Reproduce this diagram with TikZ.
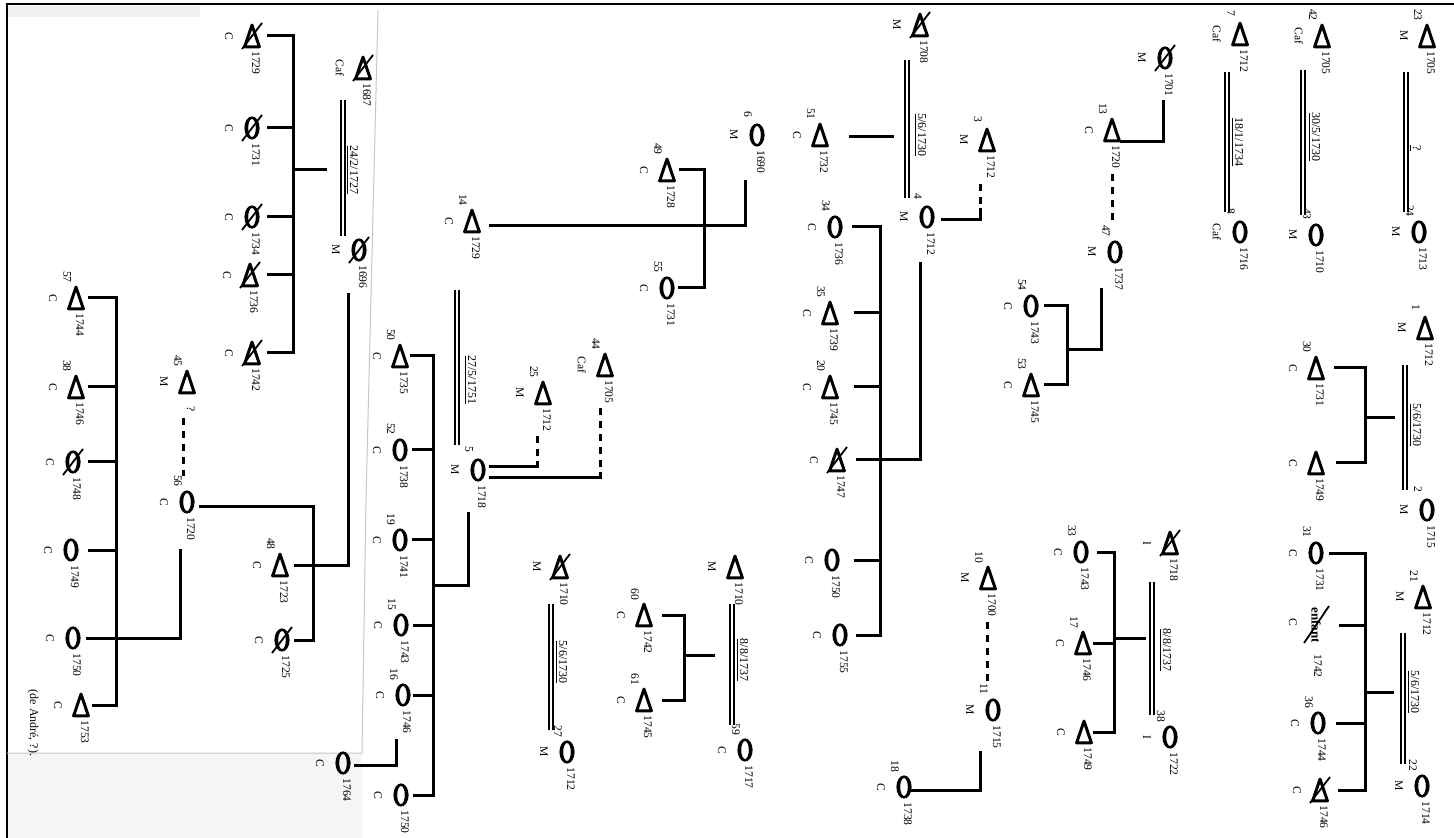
\documentclass[tikz,border=0pt]{standalone}
\usepackage{fontspec}
\setmainfont{Liberation Serif}
\newcommand{\kTri}[3]{\node[symbox] (#1) at (#2,#3) {};\draw[symline] (#1.south west) -- (#1.north) -- (#1.south east) -- cycle;}
\newcommand{\kCir}[3]{\node[symbox] (#1) at (#2,#3) {};\fill[even odd rule] (#1.center) ellipse [x radius=3.8pt, y radius=5.8pt] (#1.center) ellipse [x radius=1.9pt, y radius=4.5pt];}
\newcommand{\kX}[1]{\draw[xline] ([shift={(-5pt,-6.5pt)}]#1.center) -- ([shift={(5pt,6.5pt)}]#1.center);}
\newcommand{\kLab}[4]{%
 \if\relax\detokenize{#2}\relax\else\node[txt] (#1-n) at ([shift={(-4.5pt,10.5pt)}]#1.center) {#2};\fi
 \node[txt] (#1-y) at ([shift={(2pt,-13.5pt)}]#1.center) {#3};
 \node[txt] (#1-l) at ([shift={(-11.5pt,0pt)}]#1.center) {#4};}
\newcommand{\kKid}[3]{\draw[ln] (#2 |- #1.center) -- ([xshift=#3]#1.center);}
\begin{document}
\begin{tikzpicture}[x=0.5pt,y=-0.5pt,
  ln/.style={line width=1.5pt, line cap=rect},
  dln/.style={line width=1.5pt, dash pattern=on 3.5pt off 3pt},
  dbl/.style={double, double distance=1pt, line width=0.85pt},
  symbox/.style={inner sep=0pt, minimum width=7pt, minimum height=10.5pt},
  symline/.style={line width=1.5pt, line join=round},
  xline/.style={line width=0.9pt},
  txt/.style={rotate=-90, inner sep=0pt, font=\fontsize{5.8}{6}\selectfont},
  dtxt/.style={rotate=-90, inner sep=0pt, font=\fontsize{6}{6.5}\selectfont}]
\useasboundingbox (0,0) rectangle (1454,838);
\fill[gray!8] (7,753) rectangle (362,838);
\fill[gray!12] (8,6) rectangle (200,17);
\draw[line width=1.2pt] (7,838) -- (7,4) -- (1454,4);
\draw[gray!45, line width=0.5pt] (378,10) -- (366,500) -- (362,753) -- (7,753);

% 23 = 24
\kTri{a23}{1427}{36}\kLab{a23}{23}{1705}{M}
\kCir{a24}{1419}{232}\kLab{a24}{24}{1713}{M}
\draw[dbl] (1406,72) -- (1406,212);
\node[dtxt] (d23) at (1415,148) {\underline{?}};
% 42 = 43
\kTri{a42}{1322}{36}\kLab{a42}{42}{1705}{Caf}
\kCir{a43}{1316}{235}\kLab{a43}{43}{1710}{M}
\draw[dbl] (1303,70) -- (1303,215);
\node[dtxt] (d42) at (1314,137) {\underline{30/5/1730}};
% 7 = 8
\kTri{a7}{1240}{34}\kLab{a7}{7}{1712}{Caf}
\kCir{a8}{1240}{232}\kLab{a8}{8}{1716}{Caf}
\draw[dbl] (1227,72) -- (1227,212);
\node[dtxt] (d7) at (1237,142) {\underline{18/1/1734}};
% 1701 -> 13 - - 47
\kCir{a1701}{1165}{58}\kX{a1701}\kLab{a1701}{}{1701}{M}
\kTri{a13}{1112}{130}\kLab{a13}{13}{1720}{C}
\kCir{a47}{1115}{252}\kLab{a47}{47}{1737}{M}
\draw[ln] (1163,102) -- (1163,142) -- (1121,142);
\draw[dln] (1112,174) -- (1112,222);
\kCir{a54}{1031}{306}\kLab{a54}{54}{1743}{C}
\kTri{a53}{1031}{385}\kLab{a53}{53}{1745}{C}
\coordinate (s47) at (1067,0);
\draw[ln] (1101,290) -- (1101,350) -- (1067,350);
\draw[ln] (s47 |- a54.center) -- (s47 |- a53.center);
\kKid{a54}{s47}{7pt}\kKid{a53}{s47}{7pt}
% 1 = 2
\kTri{a1}{1425}{328}\kLab{a1}{1}{1712}{M}
\kCir{a2}{1427}{510}\kLab{a2}{2}{1715}{M}
\draw[dbl] (1405,365) -- (1405,490);
\node[dtxt] (d1) at (1415,425) {\underline{5/6/1730}};
\coordinate (s1) at (1365,0);
\draw[ln] (1393,418) -- (1365,418);
\kTri{a30}{1316}{368}\kLab{a30}{30}{1731}{C}
\kTri{a1749a}{1316}{463}\kLab{a1749a}{}{1749}{C}
\draw[ln] (s1 |- a30.center) -- (s1 |- a1749a.center);
\kKid{a30}{s1}{9.5pt}\kKid{a1749a}{s1}{10.5pt}
% 21 = 22
\kTri{a21}{1423}{597}\kLab{a21}{21}{1712}{M}
\kCir{a22}{1422}{786}\kLab{a22}{22}{1714}{M}
\draw[dbl] (1403,633) -- (1403,764);
\node[dtxt] (d21) at (1413,692) {\underline{5/6/1730}};
\coordinate (s21) at (1365,0);
\draw[ln] (1392,692) -- (1365,692);
\kCir{a31}{1316}{553}\kLab{a31}{31}{1731}{C}
\node[txt, font=\fontsize{6.5}{7}\selectfont\bfseries] (aenf) at (1316,625) {enfant};
\node[txt] (aenf-y) at (1318,666) {1742};
\node[txt] (aenf-l) at (1293,622) {C};
\draw[xline] (1304,643) -- (1329,606);
\kCir{a36}{1318}{723}\kLab{a36}{36}{1744}{C}
\kTri{a1746}{1320}{790}\kX{a1746}\kLab{a1746}{}{1746}{C}
\draw[ln] (s21 |- a31.center) -- (s21 |- a1746.center);
\kKid{a31}{s21}{7pt}\kKid{aenf}{s21}{12pt}\kKid{a36}{s21}{9.5pt}\kKid{a1746}{s21}{9.5pt}
% 1718 = 38
\kTri{a1718}{1170}{543}\kX{a1718}\kLab{a1718}{}{1718}{I}
\kCir{a38}{1170}{737}\kLab{a38}{38}{1722}{I}
\draw[dbl] (1152,582) -- (1152,715);
\node[dtxt] (d1718) at (1165,650) {\underline{8/8/1737}};
\coordinate (s1718) at (1114,0);
\draw[ln] (1144,638) -- (1114,638);
\kCir{a33}{1081}{552}\kLab{a33}{33}{1743}{C}
\kTri{a17}{1083}{643}\kLab{a17}{17}{1746}{C}
\kTri{a1749b}{1084}{732}\kLab{a1749b}{}{1749}{C}
\draw[ln] (s1718 |- a33.center) -- (s1718 |- a1749b.center);
\kKid{a33}{s1718}{8.5pt}\kKid{a17}{s1718}{5.5pt}\kKid{a1749b}{s1718}{5pt}
% 10 - - 11 -> 18
\kTri{a10}{988}{578}\kLab{a10}{10}{1700}{M}
\kCir{a11}{993}{710}\kLab{a11}{11}{1715}{M}
\draw[dln] (987,622) -- (987,682);
\kCir{a18}{904}{787}\kLab{a18}{18}{1738}{C}
\draw[ln] (980,752) -- (980,790) -- (912,790);
% 1708 = 4 ; 3 - 4
\kTri{a1708}{920}{25}\kX{a1708}\kLab{a1708}{}{1708}{M}
\kCir{a4}{927}{217}\kLab{a4}{4}{1712}{M}
\draw[dbl] (907,60) -- (907,198);
\node[dtxt] (d1708) at (920,135) {\underline{5/6/1730}};
\kTri{a51}{820}{135}\kLab{a51}{51}{1732}{C}
\draw[ln] (892,137) -- (850,137);
\kTri{a3}{987}{140}\kLab{a3}{3}{1712}{M}
\draw[dln] (980,184) -- (980,210);
\draw[ln] (980,210) -- (980,220) -- (942,220);
\coordinate (s4) at (880,0);
\draw[ln] (920,264) -- (920,460) -- (880,460);
\kCir{a34}{835}{227}\kLab{a34}{34}{1736}{C}
\kTri{a35}{830}{313}\kLab{a35}{35}{1739}{C}
\kTri{a20}{830}{387}\kLab{a20}{20}{1745}{C}
\kTri{a1747}{837}{460}\kX{a1747}\kLab{a1747}{}{1747}{C}
\kCir{a1750b}{832}{560}\kLab{a1750b}{}{1750}{C}
\kCir{a1755}{840}{635}\kLab{a1755}{}{1755}{C}
\draw[ln] (s4 |- a34.center) -- (s4 |- a1755.center);
\kKid{a34}{s4}{9pt}\kKid{a35}{s4}{12.5pt}\kKid{a20}{s4}{12.5pt}\kKid{a1747}{s4}{10pt}\kKid{a1750b}{s4}{11.5pt}\kKid{a1755}{s4}{8.5pt}
% 6 -> 14 ; 49, 55
\kCir{a6}{757}{135}\kLab{a6}{6}{1690}{M}
\draw[ln] (745,182) -- (745,226) -- (490,226);
\kTri{a49}{667}{170}\kLab{a49}{49}{1728}{C}
\kCir{a55}{667}{288}\kLab{a55}{55}{1731}{C}
\coordinate (s6) at (704,0);
\draw[ln] (s6 |- a49.center) -- (s6 |- a55.center);
\kKid{a49}{s6}{6.5pt}\kKid{a55}{s6}{6pt}
\kTri{a14}{472}{221}\kLab{a14}{14}{1729}{C}
% 14 = 5 ; 44, 25
\draw[dbl] (457,290) -- (457,445);
\node[dtxt] (d14) at (470,380) {\underline{27/5/1751}};
\kCir{a5}{478}{470}\kLab{a5}{5}{1718}{M}
\kTri{a44}{605}{365}\kLab{a44}{44}{1705}{Caf}
\draw[dln] (600,408) -- (600,474);
\draw[ln] (600,474) -- (600,478) -- (490,478);
\kTri{a25}{543}{393}\kLab{a25}{25}{1712}{M}
\draw[dln] (537,436) -- (537,463);
\draw[ln] (537,463) -- (537,467) -- (490,467);
\coordinate (s5) at (433,0);
\draw[ln] (468,514) -- (468,585) -- (433,585);
\kTri{a50}{400}{356}\kLab{a50}{50}{1735}{C}
\kCir{a52}{400}{450}\kLab{a52}{52}{1738}{C}
\kCir{a19}{400}{540}\kLab{a19}{19}{1741}{C}
\kCir{a15}{401}{625}\kLab{a15}{15}{1743}{C}
\kCir{a16}{403}{695}\kLab{a16}{16}{1746}{C}
\kCir{a1750c}{401}{795}\kLab{a1750c}{}{1750}{C}
\draw[ln] (s5 |- a50.center) -- (s5 |- a1750c.center);
\kKid{a50}{s5}{5.5pt}\kKid{a52}{s5}{6.5pt}\kKid{a19}{s5}{6.5pt}\kKid{a15}{s5}{6.5pt}\kKid{a16}{s5}{5.5pt}\kKid{a1750c}{s5}{6.5pt}
\kCir{a1764}{343}{763}\kLab{a1764}{}{1764}{C}
\draw[ln] (396,740) -- (396,765) -- (355,765);
% 1710 = 27
\kTri{a1710}{560}{567}\kX{a1710}\kLab{a1710}{}{1710}{M}
\kCir{a27}{567}{752}\kLab{a27}{27}{1712}{M}
\draw[dbl] (551,604) -- (551,730);
\node[dtxt] (d1710) at (561,662) {\underline{5/6/1730}};
% 1710 = 59
\kTri{a1710b}{735}{567}\kLab{a1710b}{}{1710}{M}
\kCir{a59}{745}{750}\kLab{a59}{59}{1717}{C}
\draw[dbl] (732,604) -- (732,725);
\node[dtxt] (d1710b) at (742,660) {\underline{8/8/1737}};
\coordinate (s59) at (684,0);
\draw[ln] (713,655) -- (684,655);
\kTri{a60}{644}{615}\kLab{a60}{60}{1742}{C}
\kTri{a61}{644}{700}\kLab{a61}{61}{1745}{C}
\draw[ln] (s59 |- a60.center) -- (s59 |- a61.center);
\kKid{a60}{s59}{9.5pt}\kKid{a61}{s59}{9.5pt}
% 1687 = 1696
\kTri{a1687}{363}{68}\kX{a1687}\kLab{a1687}{}{1687}{Caf}
\kCir{a1696}{359}{250}\kX{a1696}\kLab{a1696}{}{1696}{M}
\draw[dbl] (343,100) -- (343,236);
\node[dtxt] (d1687) at (352,170) {\underline{24/2/1727}};
\coordinate (s1687) at (293,0);
\draw[ln] (325,170) -- (293,170);
\kTri{a1729}{252}{36}\kX{a1729}\kLab{a1729}{}{1729}{C}
\kCir{a1731}{252}{128}\kX{a1731}\kLab{a1731}{}{1731}{C}
\kCir{a1734}{252}{217}\kX{a1734}\kLab{a1734}{}{1734}{C}
\kTri{a1736}{250}{275}\kX{a1736}\kLab{a1736}{}{1736}{C}
\kTri{a1742}{252}{353}\kX{a1742}\kLab{a1742}{}{1742}{C}
\draw[ln] (s1687 |- a1729.center) -- (s1687 |- a1742.center);
\kKid{a1729}{s1687}{8pt}\kKid{a1731}{s1687}{8pt}\kKid{a1734}{s1687}{8pt}\kKid{a1736}{s1687}{9pt}\kKid{a1742}{s1687}{8pt}
% 1696 -> 48 ; 56, 48, 1725
\kTri{a48}{280}{565}\kLab{a48}{48}{1723}{C}
\kCir{a1725}{282}{640}\kX{a1725}\kLab{a1725}{}{1725}{C}
\draw[ln] (348,295) -- (348,565) -- (295,565);
\kTri{a45}{187}{382}\kLab{a45}{45}{?}{M}
\draw[dln] (183,418) -- (183,476);
\kCir{a56}{187}{502}\kLab{a56}{56}{1720}{C}
\draw[ln] (200,507) -- (313,507) -- (313,640) -- (295,640);
\draw[ln] (180,550) -- (180,638) -- (87,638);
% 57 ...
\coordinate (s57) at (116,0);
\kTri{a57}{76}{298}\kLab{a57}{57}{1744}{C}
\kTri{a38b}{76}{387}\kLab{a38b}{38}{1746}{C}
\kCir{a1748}{73}{462}\kX{a1748}\kLab{a1748}{}{1748}{C}
\kCir{a1749c}{71}{550}\kLab{a1749c}{}{1749}{C}
\kCir{a1750a}{73}{638}\kLab{a1750a}{}{1750}{C}
\kTri{a1753}{81}{705}\kLab{a1753}{}{1753}{C}
\draw[ln] (s57 |- a57.center) -- (s57 |- a1753.center);
\kKid{a57}{s57}{6.5pt}\kKid{a38b}{s57}{6.5pt}\kKid{a1748}{s57}{8pt}\kKid{a1749c}{s57}{9pt}\kKid{a1750a}{s57}{7.5pt}\kKid{a1753}{s57}{6pt}
\node[dtxt] (note) at (33,723) {(de André, ?).};
\end{tikzpicture}
\end{document}
